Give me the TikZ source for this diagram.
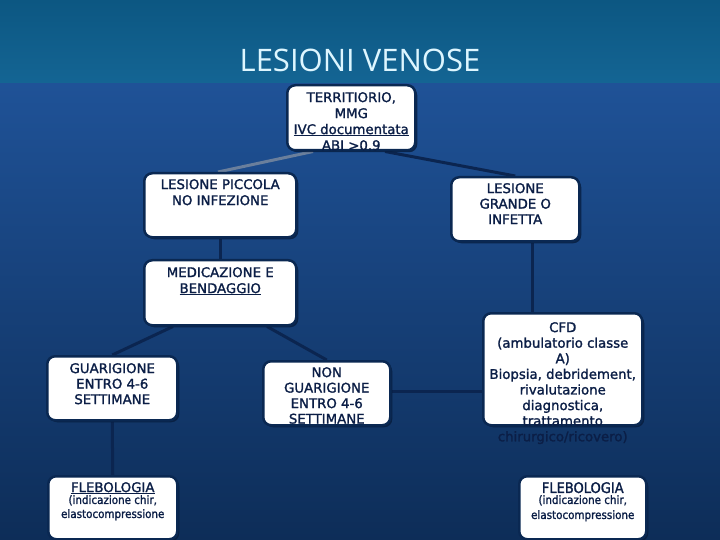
\documentclass[tikz,border=0pt]{standalone}
\usepackage{fontspec}
\setmainfont[FakeBold=1.5]{DejaVu Sans}
\newfontfamily\condfont[FakeBold=1.5]{DejaVu Sans Condensed}
\newfontfamily\titlefont{Open Sans}
\usetikzlibrary{calc,shadows}
\definecolor{bandtop}{HTML}{0C5782}
\definecolor{bandbot}{HTML}{146594}
\definecolor{bluetop}{HTML}{1F5297}
\definecolor{bluemid}{HTML}{1B4C91}
\definecolor{bluebot}{HTML}{0D2D58}
\definecolor{boxline}{HTML}{0A2852}
\definecolor{shadowc}{HTML}{071C3C}
\definecolor{navytext}{HTML}{0B1E46}
\definecolor{connc}{HTML}{0B2550}
\definecolor{grayc}{HTML}{6A7F9C}
\definecolor{titlec}{HTML}{DDF6FF}
\pgfdeclarelayer{bglayer}
\pgfdeclarelayer{linelayer}
\pgfsetlayers{bglayer,linelayer,main}
\begin{document}
\begin{tikzpicture}[x=1bp,y=-1bp,
  box/.style={draw=boxline, line width=2.5bp, fill=white, rounded corners=8bp,
    inner sep=0pt, anchor=north west,
    drop shadow={shadow xshift=2bp, shadow yshift=-2bp, fill=shadowc, opacity=0.8}},
  btext/.style={text=navytext, align=center, inner sep=0pt, anchor=north,
    font=\fontsize{13.3bp}{16bp}\selectfont},
  btextb/.style={btext, font=\fontsize{13.3bp}{15.5bp}\selectfont},
  bsmall/.style={text=navytext, align=center, inner sep=0pt, anchor=north,
    font=\condfont\fontsize{11.5bp}{14bp}\selectfont},
  conn/.style={draw=connc, line width=3bp},
  ]
\useasboundingbox (0,0) rectangle (720,540);
\begin{pgfonlayer}{bglayer}
\fill[top color=bandtop, bottom color=bandbot] (0,0) rectangle (720,85);
\fill[top color=bluetop, middle color=bluemid, bottom color=bluebot] (0,84) rectangle (720,540);
\end{pgfonlayer}

% title
\node[font=\titlefont\fontsize{31bp}{36bp}\selectfont, text=titlec] (title) at (360,60) {LESIONI VENOSE};

% boxes
\node[box, minimum width=128bp, minimum height=65bp] (t) at (286,84) {};
\node[box, minimum width=152bp, minimum height=64bp] (lp) at (143,172) {};
\node[box, minimum width=128bp, minimum height=64bp] (lg) at (450,176) {};
\node[box, minimum width=152bp, minimum height=65bp] (mb) at (143,259) {};
\node[box, minimum width=130bp, minimum height=64bp] (gu) at (46,355) {};
\node[box, minimum width=127bp, minimum height=64bp] (ng) at (262,360) {};
\node[box, minimum width=159bp, minimum height=112bp] (cfd) at (482,312) {};
\node[box, minimum width=129bp, minimum height=63bp] (fl) at (47,475) {};
\node[box, minimum width=127bp, minimum height=63bp] (fr) at (518,475) {};

% texts
\node[btext] (tt) at ($(t.north)+(0,8)$) {TERRITIORIO,\\MMG\\\underline{IVC documentata}\\ABI >0.9};
\node[btext] (lpt) at ($(lp.north)+(0,7)$) {LESIONE PICCOLA\\NO INFEZIONE};
\node[btextb] (lgt) at ($(lg.north)+(0,7)$) {LESIONE\\GRANDE O\\INFETTA};
\node[btext] (mbt) at ($(mb.north)+(0,8)$) {MEDICAZIONE E\\\underline{BENDAGGIO}};
\node[btextb] (gut) at ($(gu.north)+(0,8)$) {GUARIGIONE\\ENTRO 4-6\\SETTIMANE};
\node[btextb] (ngt) at ($(ng.north)+(0,7)$) {NON\\GUARIGIONE\\ENTRO 4-6\\SETTIMANE};
\node[btext, font=\fontsize{13.3bp}{15.6bp}\selectfont] (cfdt) at ($(cfd.north)+(0,10)$) {CFD\\(ambulatorio classe\\A)\\Biopsia, debridement,\\rivalutazione\\diagnostica,\\trattamento\\chirurgico/ricovero)};
\node[btext] (flh) at ($(fl.north)+(0,7)$) {\underline{FLEBOLOGIA}};
\node[bsmall] (flb) at ($(fl.north)+(0,20)$) {(indicazione chir,\\elastocompressione};
\node[btext, font=\condfont\fontsize{14.5bp}{16bp}\selectfont] (frh) at ($(fr.north)+(0,7)$) {FLEBOLOGIA};
\node[bsmall, font=\condfont\fontsize{11.5bp}{15bp}\selectfont] (frb) at ($(fr.north)+(0,20)$) {(indicazione chir,\\elastocompressione};

% connectors
\begin{pgfonlayer}{linelayer}
\draw[conn, draw=grayc] ($(t.south west)+(27,0)$) -- ($(lp.north west)+(75,0)$);
\draw[conn] ($(t.south west)+(99,0)$) -- (lg.north);
\draw[conn] (lp.south) -- (mb.north);
\draw[conn] ($(lg.south west)+(82,0)$) -- ($(cfd.north west)+(50,0)$);
\draw[conn] ($(mb.south west)+(30,0)$) -- (gu.north);
\draw[conn] ($(mb.south west)+(124,0)$) -- (ng.north);
\draw[conn] ($(ng.east)+(0,-2)$) -- ($(ng.east -| cfd.west)+(0,-2)$);
\draw[conn] (gu.south) -- (fl.north);
\end{pgfonlayer}
\end{tikzpicture}
\end{document}
